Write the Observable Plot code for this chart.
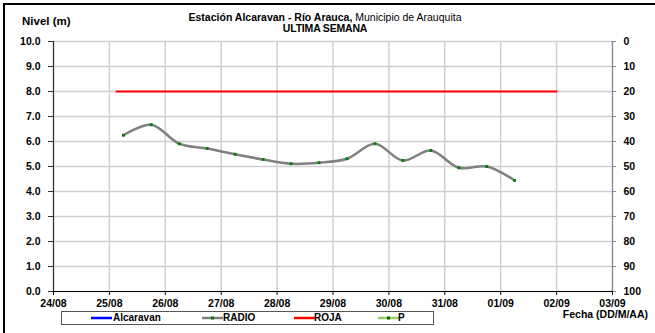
<!DOCTYPE html>
<html><head><meta charset="utf-8">
<script src="https://cdn.jsdelivr.net/npm/d3@7"></script>
<script src="https://cdn.jsdelivr.net/npm/@observablehq/plot@0.6"></script>
<style>
body{margin:0;background:#fff;font-family:Arial,"Liberation Sans",sans-serif;}
#wrap{position:relative;width:655px;height:333px;overflow:hidden;background:#fff;}
#frame{position:absolute;left:3px;top:3px;width:700px;height:400px;border-top:2px solid #000;border-left:2px solid #000;}
#chart{position:absolute;left:0;top:0;}
.lbl{position:absolute;font-weight:bold;font-size:10.5px;white-space:nowrap;color:#000;}
#title{position:absolute;left:0;width:650px;top:12px;text-align:center;font-size:10.5px;line-height:11px;white-space:nowrap;}
#legend{position:absolute;left:61px;top:311px;width:373px;height:14px;border:1px solid #555;box-sizing:border-box;}
.item{position:absolute;top:0;height:12px;font-weight:bold;font-size:10px;line-height:12px;}
.item svg{position:absolute;top:0;}
</style></head><body>
<div id="wrap">
  <div id="frame"></div>
  <div id="chart"></div>
  <div class="lbl" style="left:22px;top:15px;font-size:11.5px;">Nivel (m)</div>
  <div id="title"><b>Estación Alcaravan - Río Arauca,</b> Municipio de Arauquita<br><b style="letter-spacing:-0.2px">ULTIMA SEMANA</b></div>
  <div id="legend"></div>
  <div class="lbl" style="right:7px;top:308px;">Fecha (DD/M/AA)</div>
</div>
<script>
// ---- data ----
const radioTimes = ["2014-08-25T06:00Z","2014-08-25T18:00Z","2014-08-26T06:00Z","2014-08-26T18:00Z","2014-08-27T06:00Z","2014-08-27T18:00Z","2014-08-28T06:00Z","2014-08-28T18:00Z","2014-08-29T06:00Z","2014-08-29T18:00Z","2014-08-30T06:00Z","2014-08-30T18:00Z","2014-08-31T06:00Z","2014-08-31T18:00Z","2014-09-01T06:00Z"];
const radioValues = [6.25, 6.67, 5.91, 5.72, 5.49, 5.28, 5.11, 5.15, 5.31, 5.91, 5.24, 5.64, 4.95, 5.00, 4.44];
const rojaTimes = ["2014-08-25T03:00Z","2014-09-02T00:00Z"];
const rojaValues = [8.0, 8.0];
const dayTicks = ["2014-08-24","2014-08-25","2014-08-26","2014-08-27","2014-08-28","2014-08-29","2014-08-30","2014-08-31","2014-09-01","2014-09-02","2014-09-03"];
const leftTicks = [0,1,2,3,4,5,6,7,8,9,10];
const rightLabels = ["100","90","80","70","60","50","40","30","20","10","0"];
const legendNames = ["Alcaravan","RADIO","ROJA","P"];

// ---- build ----
const radio = radioTimes.map((t,i)=>({date:new Date(t), value:radioValues[i]}));
const roja = rojaTimes.map((t,i)=>({date:new Date(t), value:rojaValues[i]}));
const days = dayTicks.map(d=>new Date(d+"T00:00Z"));
const fmt = d3.utcFormat("%d/%m");

const chart = Plot.plot({
  width:655, height:333,
  marginLeft:53, marginRight:43, marginTop:41, marginBottom:42,
  style:{fontFamily:"Arial, 'Liberation Sans', sans-serif", fontSize:"10.5px", fontWeight:"bold", color:"#000", background:"transparent"},
  x:{type:"utc", domain:[days[0], days[days.length-1]]},
  y:{domain:[0,10]},
  marks:[
    Plot.gridX(days, {stroke:"#d0d0d0", strokeOpacity:1, strokeWidth:1.5}),
    Plot.gridY(leftTicks, {stroke:"#d0d0d0", strokeOpacity:1, strokeWidth:1.5}),
    Plot.ruleX([days[days.length-1]], {stroke:"#888", strokeWidth:1.2}),
    Plot.ruleX([days[0]], {stroke:"#333", strokeWidth:1.2}),
    Plot.ruleY([0], {stroke:"#000", strokeWidth:1.2}),
    Plot.axisY(leftTicks, {anchor:"left", tickSize:5, tickPadding:8, tickFormat:d=>d.toFixed(1), label:null, stroke:"#333"}),
    Plot.axisY(leftTicks, {anchor:"right", tickSize:3, tickPadding:8, tickFormat:d=>rightLabels[d], label:null, stroke:"#888", textAnchor:"start"}),
    Plot.axisX(days, {anchor:"bottom", tickSize:4, tickPadding:4, tickFormat:fmt, label:null, stroke:"#000"}),
    Plot.line(roja, {x:"date", y:"value", stroke:"#ff0000", strokeWidth:2}),
    Plot.line(radio, {x:"date", y:"value", stroke:"#808080", strokeWidth:2.5, curve:"catmull-rom"}),
    Plot.dot(radio, {x:"date", y:"value", symbol:"square", r:1.6, fill:"#008000", stroke:"none"})
  ]
});
document.getElementById("chart").appendChild(chart);

// legend
const legendSpec = [
  {name:legendNames[0], lx:29, tx:51, color:"#0000ff", dot:null},
  {name:legendNames[1], lx:140, tx:161, color:"#808080", dot:"#008000"},
  {name:legendNames[2], lx:232, tx:252, color:"#ff0000", dot:null},
  {name:legendNames[3], lx:316, tx:336, color:"#99cc66", dot:"#006600"}
];
const leg = document.getElementById("legend");
for (const s of legendSpec) {
  const el = document.createElement("div");
  el.className = "item";
  el.style.left = s.lx + "px";
  el.style.width = (s.tx - s.lx + 60) + "px";
  el.innerHTML = `<svg width="21" height="12" style="left:0"><line x1="0" x2="21" y1="6" y2="6" stroke="${s.color}" stroke-width="2.5"/>${s.dot?`<rect x="9" y="4.5" width="3" height="3" fill="${s.dot}"/>`:""}</svg>` + `<span style="position:absolute;left:${s.tx - s.lx}px">${s.name}</span>`;
  leg.appendChild(el);
}
</script>
</body></html>
